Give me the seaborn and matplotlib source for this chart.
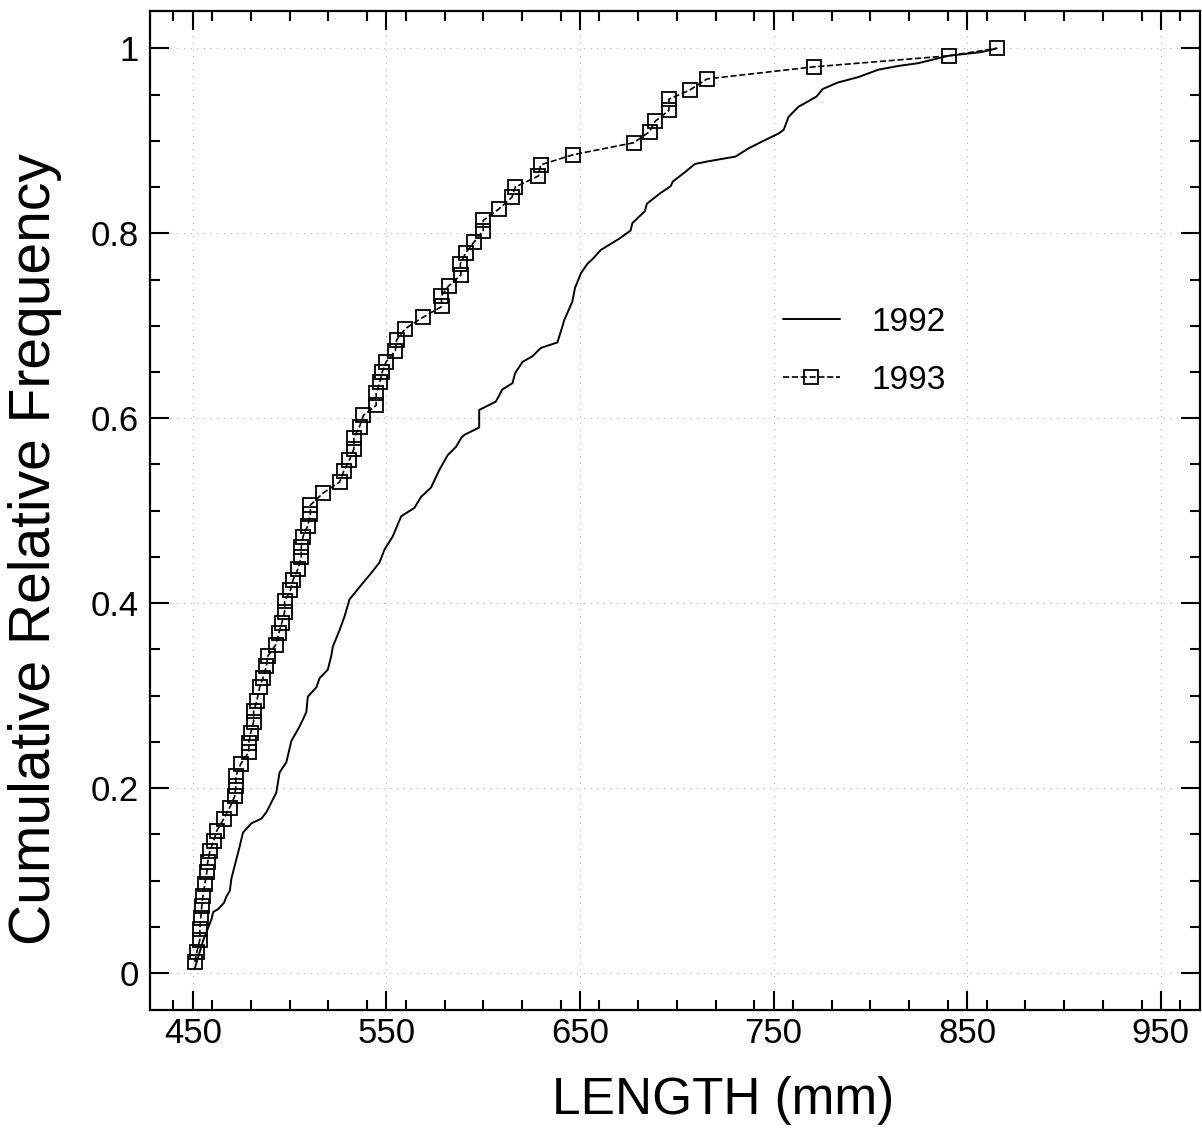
import numpy as np
import pandas as pd
import matplotlib
matplotlib.use("Agg")
import matplotlib.pyplot as plt
from matplotlib.ticker import MultipleLocator
import seaborn as sns

# 1992 - cumulative curve
len_1992 = [451.0, 455.3, 459.6, 460.5, 463.0, 466.1, 467.4, 469.1, 469.9, 471.6,
            474.2, 475.9, 480.3, 485.4, 488.0, 489.7, 491.4, 493.1, 494.8, 498.3,
            500.9, 505.2, 508.6, 509.4, 513.8, 515.5, 519.7, 521.5, 522.3, 525.8,
            528.4, 530.9, 537.1, 542.3, 546.4, 549.0, 553.2, 557.6, 564.4, 567.9,
            573.0, 577.3, 581.6, 585.9, 588.7, 590.2, 597.9, 597.9, 606.5, 609.8,
            615.1, 616.5, 620.3, 625.4, 629.7, 638.3, 640.7, 641.8, 646.0, 647.4,
            650.5, 653.8, 656.4, 660.7, 670.1, 676.1, 677.0, 683.5, 684.5, 691.2,
            696.8, 697.9, 704.1, 709.3, 716.5, 730.3, 737.1, 745.7, 752.6, 755.2,
            757.7, 762.9, 765.5, 772.2, 775.3, 783.0, 793.8, 804.1, 814.4, 824.7,
            840.2, 857.4, 865.1]
freq_1992 = [0.005, 0.035, 0.058, 0.066, 0.069, 0.076, 0.083, 0.089, 0.102, 0.116,
             0.137, 0.152, 0.162, 0.167, 0.174, 0.181, 0.188, 0.195, 0.217, 0.228,
             0.251, 0.267, 0.282, 0.299, 0.309, 0.319, 0.328, 0.343, 0.353, 0.371,
             0.386, 0.404, 0.420, 0.433, 0.444, 0.458, 0.472, 0.494, 0.503, 0.515,
             0.525, 0.544, 0.560, 0.569, 0.579, 0.582, 0.590, 0.609, 0.618, 0.631,
             0.638, 0.649, 0.661, 0.667, 0.676, 0.682, 0.698, 0.706, 0.726, 0.741,
             0.757, 0.767, 0.772, 0.782, 0.794, 0.803, 0.811, 0.824, 0.832, 0.843,
             0.851, 0.856, 0.866, 0.875, 0.878, 0.883, 0.892, 0.901, 0.908, 0.912,
             0.926, 0.937, 0.940, 0.948, 0.956, 0.963, 0.969, 0.977, 0.981, 0.984,
             0.992, 0.996, 1.000]

# 1993 - one square per fish
len_1993 = [451.0, 452.1, 453.6, 453.6, 454.1, 454.6, 455.2, 456.2, 457.2, 457.7,
            458.8, 460.8, 462.4, 466.0, 469.1, 471.6, 472.2, 472.2, 474.7, 478.9,
            478.9, 479.9, 481.4, 481.4, 483.0, 484.5, 486.2, 488.0, 488.8, 492.8,
            494.5, 496.0, 497.4, 497.4, 500.4, 501.7, 504.3, 506.0, 506.0, 506.9,
            509.4, 510.7, 510.7, 517.2, 525.8, 528.0, 530.9, 533.2, 533.2, 536.1,
            538.1, 544.7, 544.7, 546.6, 547.8, 549.8, 554.6, 555.3, 559.8, 568.7,
            578.7, 578.2, 582.1, 588.5, 588.1, 591.0, 595.4, 600.0, 600.0, 607.9,
            614.8, 616.5, 628.5, 629.6, 646.4, 677.8, 685.9, 688.7, 695.9, 695.9,
            706.7, 715.6, 770.6, 840.6, 865.1]
freq_1993 = [0.012, 0.023, 0.036, 0.048, 0.060, 0.072, 0.083, 0.096, 0.109, 0.120,
             0.132, 0.143, 0.154, 0.167, 0.179, 0.191, 0.202, 0.213, 0.226, 0.239,
             0.249, 0.260, 0.272, 0.283, 0.294, 0.309, 0.319, 0.332, 0.343, 0.355,
             0.368, 0.379, 0.391, 0.402, 0.414, 0.425, 0.437, 0.450, 0.461, 0.472,
             0.484, 0.496, 0.506, 0.519, 0.531, 0.543, 0.555, 0.567, 0.579, 0.591,
             0.603, 0.614, 0.627, 0.639, 0.650, 0.661, 0.673, 0.685, 0.697, 0.709,
             0.721, 0.732, 0.743, 0.755, 0.767, 0.779, 0.791, 0.803, 0.814, 0.826,
             0.839, 0.850, 0.862, 0.874, 0.885, 0.898, 0.910, 0.921, 0.933, 0.945,
             0.955, 0.967, 0.980, 0.992, 1.000]

sns.set_style("ticks")
plt.rcParams["font.family"] = ["Liberation Sans", "DejaVu Sans"]

fig = plt.figure(figsize=(12.02, 11.4), dpi=100)
ax = fig.add_axes([0.125, 0.114, 0.873, 0.876])

sns.lineplot(x=len_1992, y=freq_1992, ax=ax, color="black", linewidth=1.4,
             estimator=None, sort=False, label="1992")
sns.lineplot(x=len_1993, y=freq_1993, ax=ax, color="black", linewidth=1.2,
             linestyle="--", dashes=(4, 3), marker="s", markersize=10,
             markerfacecolor="none", markeredgecolor="black", markeredgewidth=1.3,
             estimator=None, sort=False, label="1993")

ax.set_xlim(428, 970)
ax.set_ylim(-0.04, 1.04)
ax.xaxis.set_minor_locator(MultipleLocator(20))
ax.yaxis.set_minor_locator(MultipleLocator(0.05))
ax.set_xticks([450, 550, 650, 750, 850, 950])
ax.set_yticks([0, 0.2, 0.4, 0.6, 0.8, 1.0])
ax.set_yticklabels(["0", "0.2", "0.4", "0.6", "0.8", "1"])

ax.tick_params(which="both", direction="in", top=True, right=True, width=1.5,
               labelsize=25, colors="black")
ax.tick_params(which="major", length=14, pad=5)
ax.tick_params(which="minor", length=7)
ax.tick_params(axis="y", which="major", pad=8)
for s in ax.spines.values():
    s.set_linewidth(1.6)
    s.set_color("black")

ax.grid(True, which="major", linestyle=(0, (1, 5)), color="#b0b0b0", linewidth=0.8)

ax.set_xlabel("LENGTH (mm)", fontsize=37, color="black")
ax.set_ylabel("Cumulative Relative Frequency", fontsize=41, color="black")
ax.xaxis.set_label_coords(0.546, -0.066)
ax.yaxis.set_label_coords(-0.084, 0.462)

ax.legend(loc="upper left", bbox_to_anchor=(0.603, 0.704), frameon=False,
          fontsize=24, handlelength=1.7, handletextpad=0.95, labelspacing=0.8,
          borderpad=0, borderaxespad=0, numpoints=1, labelcolor="black")

fig.savefig("out.png", dpi=100)
